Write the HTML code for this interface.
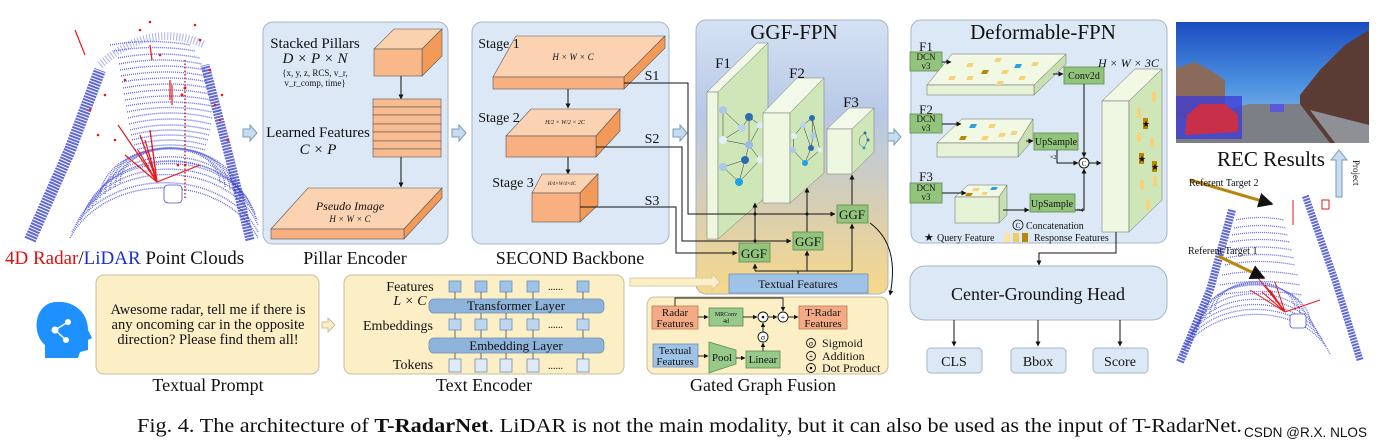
<!DOCTYPE html>
<html><head><meta charset="utf-8"><style>
html,body{margin:0;padding:0;background:#fff}
svg{display:block}
text{font-family:"Liberation Serif",serif;fill:#111}
</style></head><body>
<svg width="1383" height="448" viewBox="0 0 1383 448" xmlns="http://www.w3.org/2000/svg">
<defs>
<linearGradient id="ggf" x1="0" y1="0" x2="0" y2="1">
<stop offset="0" stop-color="#d5e2f4"/><stop offset="0.35" stop-color="#b7c8e6"/><stop offset="0.7" stop-color="#d9cfb0"/><stop offset="1" stop-color="#f7d88a"/></linearGradient>
<linearGradient id="sky" x1="0" y1="0" x2="0" y2="1">
<stop offset="0" stop-color="#1c4cc0"/><stop offset="0.5" stop-color="#4a90e0"/><stop offset="1" stop-color="#9cc4ec"/></linearGradient>
<marker id="ar" viewBox="0 0 10 10" refX="9" refY="5" markerWidth="5" markerHeight="5" orient="auto"><path d="M0,0 L10,5 L0,10 z" fill="#111"/></marker>
</defs>

<!-- LEFT POINT CLOUD -->
<g fill="none">
<g stroke="#3b46d6" stroke-width="1.4" stroke-dasharray="1 1" opacity="0.8">
<path d="M120,183 A50,35 0 0 1 220,183"/>
<path d="M115,187 A55,38 0 0 1 225,187"/>
<path d="M110,190 A60,42 0 0 1 230,190"/>
<path d="M105,194 A65,46 0 0 1 235,194"/>
<path d="M100,198 A70,50 0 0 1 240,198"/>
<path d="M96,202 A75,54 0 0 1 244,202"/>
<path d="M92,206 A80,58 0 0 1 248,206"/>
<path d="M88,210 A84,62 0 0 1 252,210"/>
<path d="M84,214 A88,66 0 0 1 255,214"/>
<path d="M80,220 A92,70 0 0 1 257,220"/>
<path d="M76,225 A96,74 0 0 1 258,225"/>
<path d="M72,232 A100,78 0 0 1 258,232"/>
<path d="M70,238 A102,82 0 0 1 258,238"/>
<path d="M135,150 Q170,140 205,150"/><path d="M134,145 Q170,135 206,145"/><path d="M132,140 Q170,130 208,140"/><path d="M131,135 Q170,125 209,135"/>
<path d="M130,130 Q170,120 210,130"/><path d="M129,124 Q170,114 211,124"/><path d="M128,118 Q170,108 212,118"/><path d="M127,112 Q170,103 212,112"/>
<path d="M126,106 Q170,98 212,106"/><path d="M125,100 Q170,92 211,100"/><path d="M124,94 Q170,86 210,94"/><path d="M123,88 Q170,80 209,88"/>
<path d="M122,82 Q170,74 208,82"/><path d="M121,76 Q168,68 206,76"/><path d="M120,70 Q165,62 205,70"/><path d="M119,64 Q162,56 202,64"/>
<path d="M118,58 Q160,50 200,58"/><path d="M114,51 Q155,44 195,51"/><path d="M110,45 Q150,38 190,45"/>
</g>
<path d="M30,240 L70,150 L100,70" stroke="#2a34c8" stroke-width="12" stroke-dasharray="2 1" opacity="0.75"/>
<path d="M250,240 L230,160 L205,65" stroke="#2a34c8" stroke-width="9" stroke-dasharray="2 1" opacity="0.75"/>
<path d="M100,65 Q150,20 205,45" stroke="#5a64d8" stroke-width="8" stroke-dasharray="1 2" opacity="0.5"/>
<path d="M185,60 V200" stroke="#cc2222" stroke-width="1.5" stroke-dasharray="1.5 2"/>
<g stroke="#e81818" stroke-width="1.2">
<path d="M157,182 L118,125"/><path d="M157,182 L125,155"/><path d="M157,182 L140,135"/><path d="M157,182 L150,130"/><path d="M157,182 L145,140"/><path d="M157,182 L152,145"/><path d="M157,182 L200,165"/><path d="M157,182 L148,150"/><path d="M157,182 L138,150"/>
<path d="M172,85 L172,105"/><path d="M170,80 L170,100"/><path d="M75,30 L85,55"/><path d="M150,45 L152,60"/>
</g>
<g fill="#e81818" stroke="none">
<circle cx="90" cy="110" r="1.3"/><circle cx="98" cy="135" r="1.3"/><circle cx="215" cy="105" r="1.3"/><circle cx="220" cy="120" r="1.3"/><circle cx="185" cy="88" r="1.5"/><circle cx="182" cy="95" r="1.5"/><circle cx="140" cy="30" r="1.3"/><circle cx="150" cy="22" r="1.3"/><circle cx="195" cy="25" r="1.3"/><circle cx="178" cy="165" r="1.3"/><circle cx="185" cy="165" r="1.3"/><circle cx="125" cy="80" r="1.3"/><circle cx="228" cy="140" r="1.3"/><circle cx="210" cy="70" r="1.3"/><circle cx="105" cy="95" r="1.3"/><circle cx="115" cy="140" r="1.3"/><circle cx="222" cy="95" r="1.3"/><circle cx="160" cy="55" r="1.3"/><circle cx="200" cy="40" r="1.3"/>
</g>
<rect x="164" y="185" width="18" height="18" rx="4" stroke="#4455cc" stroke-width="0.8" fill="#fff"/>
</g>
<text x="5" y="264" font-size="19"><tspan fill="#e01010">4D Radar</tspan>/<tspan fill="#1a2fd0">LiDAR</tspan> Point Clouds</text>

<!-- hollow arrows -->
<g fill="#c6dcf0" stroke="#7a9ab8" stroke-width="1">
<path d="M243,129 h7 v-4 l7,8 l-7,8 v-4 h-7 z"/>
<path d="M452,129 h7 v-4 l7,8 l-7,8 v-4 h-7 z"/>
<path d="M673,129 h7 v-4 l7,8 l-7,8 v-4 h-7 z"/>
<path d="M887,133 h7 v-4 l7,8 l-7,8 v-4 h-7 z"/>
</g>

<!-- PILLAR ENCODER -->
<rect x="263" y="22" width="185" height="222" rx="10" fill="#dce8f5" stroke="#a4b4c6"/>
<text x="315" y="48" font-size="15" text-anchor="middle">Stacked Pillars</text>
<text x="315" y="63" font-size="15" text-anchor="middle" font-style="italic">D × P × N</text>
<text x="315" y="76" font-size="9" text-anchor="middle" fill="#444">{x, y, z, RCS, v_r,</text>
<text x="315" y="86" font-size="9" text-anchor="middle" fill="#444">v_r_comp, time}</text>
<path d="M374,49 L394,29 L442,29 L422,49 z" fill="#fbd2b0" stroke="#555" stroke-width="0.6"/>
<path d="M422,49 L442,29 L442,56 L422,76 z" fill="#f49a58" stroke="#555" stroke-width="0.6"/>
<rect x="374" y="49" width="48" height="27" fill="#f8b88a" stroke="#555" stroke-width="0.6"/>
<path d="M401,76 V99" stroke="#111" marker-end="url(#ar)"/>
<g fill="#f9bc90" stroke="#555" stroke-width="0.6">
<rect x="373" y="99" width="68" height="8"/><rect x="373" y="107" width="68" height="8"/><rect x="373" y="115" width="68" height="9"/><rect x="373" y="124" width="68" height="8"/><rect x="373" y="132" width="68" height="9"/><rect x="373" y="141" width="68" height="8"/><rect x="373" y="149" width="68" height="8"/>
</g>
<text x="318" y="137" font-size="15" text-anchor="middle">Learned Features</text>
<text x="318" y="154" font-size="15" text-anchor="middle" font-style="italic">C × P</text>
<path d="M401,157 V187" stroke="#111" marker-end="url(#ar)"/>
<path d="M271,229 L308,188 L442,188 L404,229 z" fill="#fcd3b2" stroke="#555" stroke-width="0.6"/>
<path d="M404,229 L442,188 L442,198 L404,239 z" fill="#f49a58" stroke="#555" stroke-width="0.6"/>
<rect x="271" y="229" width="133" height="10" fill="#f8b080" stroke="#555" stroke-width="0.6"/>
<text x="350" y="210" font-size="12" text-anchor="middle" font-style="italic">Pseudo Image</text>
<text x="350" y="222" font-size="9" text-anchor="middle" font-style="italic">H × W × C</text>
<text x="355" y="264" font-size="18" text-anchor="middle">Pillar Encoder</text>

<!-- SECOND BACKBONE -->
<rect x="472" y="22" width="197" height="222" rx="10" fill="#dce8f5" stroke="#a4b4c6"/>
<path d="M493,77 L516,36 L665,36 L624,77 z" fill="#fcd3b2" stroke="#555" stroke-width="0.6"/>
<path d="M624,77 L665,36 L665,48 L624,89 z" fill="#f49a58" stroke="#555" stroke-width="0.6"/>
<rect x="493" y="77" width="131" height="12" fill="#f8b080" stroke="#555" stroke-width="0.6"/>
<text x="499" y="48" font-size="14" text-anchor="middle">Stage 1</text>
<text x="573" y="60" font-size="9" text-anchor="middle" font-style="italic">H × W × C</text>
<path d="M568,89 V108" stroke="#111" marker-end="url(#ar)"/>
<path d="M506,136 L531,109 L620,109 L596,136 z" fill="#fcd3b2" stroke="#555" stroke-width="0.6"/>
<path d="M596,136 L620,109 L620,131 L596,157 z" fill="#f49a58" stroke="#555" stroke-width="0.6"/>
<rect x="506" y="136" width="90" height="21" fill="#f8b080" stroke="#555" stroke-width="0.6"/>
<text x="499" y="122" font-size="14" text-anchor="middle">Stage 2</text>
<text x="565" y="124" font-size="6" text-anchor="middle" font-style="italic">H/2 × W/2 × 2C</text>
<path d="M568,157 V174" stroke="#111" marker-end="url(#ar)"/>
<path d="M532,193 L542,174 L598,174 L580,193 z" fill="#fcd3b2" stroke="#555" stroke-width="0.6"/>
<path d="M580,193 L598,174 L598,205 L580,222 z" fill="#f49a58" stroke="#555" stroke-width="0.6"/>
<rect x="532" y="193" width="48" height="29" fill="#f8b080" stroke="#555" stroke-width="0.6"/>
<text x="513" y="187" font-size="14" text-anchor="middle">Stage 3</text>
<text x="562" y="185" font-size="5" text-anchor="middle" font-style="italic">H/4×W/4×4C</text>
<text x="652" y="80" font-size="14" text-anchor="middle">S1</text>
<text x="652" y="143" font-size="14" text-anchor="middle">S2</text>
<text x="652" y="205" font-size="14" text-anchor="middle">S3</text>
<text x="570" y="264" font-size="18" text-anchor="middle">SECOND Backbone</text>

<!-- GGF-FPN -->
<rect x="696" y="20" width="192" height="274" rx="10" fill="url(#ggf)" stroke="#a4b4c6"/>
<text x="794" y="39" font-size="21" text-anchor="middle">GGF-FPN</text>
<!-- F1 -->
<path d="M707,92 L757,43 L768,43 L718,92 z" fill="#f3f9e8" stroke="#777" stroke-width="0.5"/>
<rect x="707" y="92" width="11" height="147" fill="#eef7e0" stroke="#777" stroke-width="0.5"/>
<path d="M718,92 L768,43 L768,195 L718,239 z" fill="#cfe6b8" stroke="#777" stroke-width="0.5"/>
<g stroke="#333" stroke-width="0.5" fill="none"><path d="M723,110 L742,128 L749,117 L760,125 M723,110 L723,140 L749,145 L745,160 L739,182 L723,167 M742,128 L723,140 M749,117 L749,145 L760,160 L739,182 M760,125 L749,145 M745,160 L723,167"/></g>
<g><circle cx="723" cy="110" r="4" fill="#a9c8ea"/><circle cx="742" cy="128" r="4" fill="#b9d3ee"/><circle cx="749" cy="117" r="4" fill="#2e6cb0"/><circle cx="760" cy="125" r="3.5" fill="#dbe8f6"/><circle cx="723" cy="140" r="4" fill="#e6eef8"/><circle cx="749" cy="145" r="4" fill="#98bde4"/><circle cx="745" cy="160" r="4" fill="#2e6cb0"/><circle cx="760" cy="160" r="3.5" fill="#e6eef8"/><circle cx="723" cy="167" r="4" fill="#a9c8ea"/><circle cx="739" cy="182" r="4" fill="#1aa5ea"/></g>
<text x="723" y="68" font-size="15" text-anchor="middle">F1</text>
<!-- F2 -->
<path d="M763,113 L797,78 L824,78 L790,113 z" fill="#f3f9e8" stroke="#777" stroke-width="0.5"/>
<rect x="763" y="113" width="27" height="90" fill="#eef7e0" stroke="#777" stroke-width="0.5"/>
<path d="M790,113 L824,78 L824,173 L790,203 z" fill="#cfe6b8" stroke="#777" stroke-width="0.5"/>
<g stroke="#333" stroke-width="0.5" fill="none"><path d="M794,136 L803,125 L812,118 L813,136 L811,148 L805,163 L793,150 L794,136 M803,125 L811,148 M812,118 L820,150 L805,163"/></g>
<g><circle cx="794" cy="136" r="3" fill="#e6eef8"/><circle cx="803" cy="125" r="3" fill="#b9d3ee"/><circle cx="812" cy="118" r="3" fill="#2e6cb0"/><circle cx="813" cy="136" r="3" fill="#a9c8ea"/><circle cx="811" cy="148" r="3" fill="#2e6cb0"/><circle cx="820" cy="150" r="2.5" fill="#e6eef8"/><circle cx="793" cy="150" r="3" fill="#a9c8ea"/><circle cx="805" cy="163" r="3" fill="#1aa5ea"/></g>
<text x="797" y="78" font-size="15" text-anchor="middle">F2</text>
<!-- F3 -->
<path d="M827,129 L849,108 L874,108 L852,129 z" fill="#f3f9e8" stroke="#777" stroke-width="0.5"/>
<rect x="827" y="129" width="25" height="45" fill="#eef7e0" stroke="#777" stroke-width="0.5"/>
<path d="M852,129 L874,108 L874,152 L852,174 z" fill="#cfe6b8" stroke="#777" stroke-width="0.5"/>
<g stroke="#333" stroke-width="0.4" fill="none"><path d="M860,137 L865,133 L868,140 L864,148 L859,144 z"/></g>
<circle cx="865" cy="133" r="1.5" fill="#2e6cb0"/><circle cx="868" cy="140" r="1.5" fill="#2e6cb0"/><circle cx="864" cy="148" r="1.5" fill="#1aa5ea"/>
<text x="851" y="107" font-size="15" text-anchor="middle">F3</text>

<!-- S lines -->
<g fill="none" stroke="#111" stroke-width="1">
<path d="M624,83 H688 V214 H835" marker-end="url(#ar)"/>
<path d="M596,147 H682 V241 H791" marker-end="url(#ar)"/>
<path d="M580,207 H676 V253 H737" marker-end="url(#ar)"/>
<path d="M755,243 V203" marker-end="url(#ar)"/>
<path d="M807,232 V188" marker-end="url(#ar)"/>
<path d="M852,205 V175" marker-end="url(#ar)"/>
<path d="M798,274 V271 M755,271 H852"/>
<path d="M755,271 V264" marker-end="url(#ar)"/>
<path d="M807,271 V251" marker-end="url(#ar)"/>
<path d="M852,271 V224" marker-end="url(#ar)"/>
<path d="M870,223 Q900,245 890,295" marker-end="url(#ar)"/>
</g>
<circle cx="755" cy="214" r="1.5" fill="#111"/><circle cx="807" cy="214" r="1.5" fill="#111"/><circle cx="755" cy="241" r="1.5" fill="#111"/>
<g fill="#93c47d" stroke="#5f8a4c" stroke-width="0.8">
<rect x="837" y="205" width="31" height="18"/><rect x="793" y="232" width="30" height="18"/><rect x="739" y="243" width="31" height="19"/>
</g>
<text x="852" y="219" font-size="13" text-anchor="middle">GGF</text>
<text x="808" y="246" font-size="13" text-anchor="middle">GGF</text>
<text x="754" y="258" font-size="13" text-anchor="middle">GGF</text>
<rect x="729" y="274" width="139" height="19" fill="#9fc3e7" stroke="#6e8fb3" stroke-width="0.8"/>
<text x="798" y="288" font-size="12" text-anchor="middle">Textual Features</text>

<!-- DEFORMABLE FPN -->
<rect x="911" y="20" width="256" height="223" rx="10" fill="#dce8f5" stroke="#a4b4c6"/>
<text x="1043" y="39" font-size="21" text-anchor="middle">Deformable-FPN</text>
<g font-size="13"><text x="926" y="51" text-anchor="middle">F1</text><text x="926" y="114" text-anchor="middle">F2</text><text x="926" y="181" text-anchor="middle">F3</text></g>
<g fill="#93c47d" stroke="#5f8a4c" stroke-width="0.8">
<rect x="910" y="52" width="32" height="19"/><rect x="910" y="114" width="32" height="19"/><rect x="910" y="183" width="32" height="20"/>
<rect x="1064" y="67" width="40" height="17"/><rect x="1034" y="133" width="44" height="17"/><rect x="1030" y="194" width="45" height="18"/>
</g>
<g font-size="9" text-anchor="middle"><text x="926" y="60">DCN</text><text x="926" y="69">v3</text><text x="926" y="122">DCN</text><text x="926" y="131">v3</text><text x="926" y="191">DCN</text><text x="926" y="200">v3</text></g>
<text x="1084" y="79" font-size="10" text-anchor="middle">Conv2d</text>
<text x="1056" y="145" font-size="10" text-anchor="middle">UpSample</text>
<text x="1052" y="207" font-size="10" text-anchor="middle">UpSample</text>
<text x="1050" y="159" font-size="6" fill="#555">×2</text><text x="1077" y="212" font-size="6" fill="#555">×4</text>
<path d="M927,85 L952,54 L1066,54 L1034,85 z" fill="#f1f8e4" stroke="#666" stroke-width="0.5"/>
<path d="M1034,85 L1066,54 L1066,64 L1034,95 z" fill="#c8e0b0" stroke="#666" stroke-width="0.5"/>
<rect x="927" y="85" width="107" height="10" fill="#e6f2d6" stroke="#666" stroke-width="0.5"/>
<path d="M937,143 L962,119 L1033,119 L1018,143 z" fill="#f1f8e4" stroke="#666" stroke-width="0.5"/>
<path d="M1018,143 L1033,119 L1033,140 L1018,157 z" fill="#c8e0b0" stroke="#666" stroke-width="0.5"/>
<rect x="937" y="143" width="81" height="14" fill="#e6f2d6" stroke="#666" stroke-width="0.5"/>
<path d="M955,197 L968,185 L1007,185 L999,197 z" fill="#f1f8e4" stroke="#666" stroke-width="0.5"/>
<path d="M999,197 L1007,185 L1007,215 L999,223 z" fill="#c8e0b0" stroke="#666" stroke-width="0.5"/>
<rect x="955" y="197" width="44" height="26" fill="#e6f2d6" stroke="#666" stroke-width="0.5"/>
<g fill="#f6d27a">
<path d="M968,63 h6 l-2,4 h-6 z"/><path d="M996,58 h6 l-2,4 h-6 z"/><path d="M1033,62 h6 l-2,4 h-6 z"/><path d="M950,76 h6 l-2,4 h-6 z"/><path d="M968,76 h6 l-2,4 h-6 z"/><path d="M1003,70 h6 l-2,4 h-6 z"/><path d="M1020,76 h6 l-2,4 h-6 z"/><path d="M998,81 h6 l-2,4 h-6 z"/>
<path d="M990,124 h6 l-2,4 h-6 z"/><path d="M1012,131 h6 l-2,4 h-6 z"/><path d="M983,136 h6 l-2,4 h-6 z"/><path d="M1000,133 h6 l-2,4 h-6 z"/>
<path d="M974,188 h6 l-2,3 h-6 z"/><path d="M983,192 h5 l-2,3 h-5 z"/>
</g>
<g fill="#b8860b"><path d="M983,70 h6 l-2,4 h-6 z"/><path d="M961,136 h6 l-2,4 h-6 z"/><path d="M967,193 h6 l-2,3 h-6 z"/></g>
<g fill="#2aa0e0"><path d="M1016,64 h6 l-2,4 h-6 z"/><path d="M971,124 h6 l-2,4 h-6 z"/><path d="M992,187 h6 l-2,3 h-6 z"/></g>
<path d="M1102,101 L1135,69 L1162,69 L1129,101 z" fill="#f1f8e4" stroke="#666" stroke-width="0.5"/>
<rect x="1102" y="101" width="27" height="131" fill="#eef7e2" stroke="#666" stroke-width="0.5"/>
<path d="M1129,101 L1162,69 L1162,200 L1129,232 z" fill="#cfe6b8" stroke="#666" stroke-width="0.5"/>
<g fill="#f6d27a"><rect x="1152" y="92" width="4" height="10"/><rect x="1137" y="108" width="4" height="10"/><rect x="1137" y="132" width="4" height="10"/><rect x="1150" y="138" width="4" height="10"/><rect x="1140" y="180" width="4" height="10"/><rect x="1153" y="176" width="4" height="10"/><rect x="1146" y="200" width="4" height="10"/></g>
<g fill="#b8860b"><rect x="1143" y="118" width="5" height="11"/><rect x="1139" y="153" width="5" height="11"/><rect x="1152" y="161" width="5" height="11"/></g>
<g fill="#3b6fc8" font-size="9"><text x="1142" y="127">★</text><text x="1138" y="162">★</text><text x="1151" y="170">★</text></g>
<text x="1098" y="67" font-size="12" font-style="italic">H × W × 3C</text>
<g fill="none" stroke="#111" stroke-width="1">
<path d="M942,62 H951" marker-end="url(#ar)"/><path d="M942,124 H961" marker-end="url(#ar)"/><path d="M942,193 H966" marker-end="url(#ar)"/>
<path d="M1053,74 H1063" marker-end="url(#ar)"/><path d="M1026,141 H1033" marker-end="url(#ar)"/><path d="M1003,210 H1029" marker-end="url(#ar)"/>
<path d="M1084,84 V157" marker-end="url(#ar)"/>
<path d="M1057,150 V163 H1078" marker-end="url(#ar)"/>
<path d="M1075,210 H1084 V169" marker-end="url(#ar)"/>
<path d="M1089,163 H1101" marker-end="url(#ar)"/>
<circle cx="1084" cy="163" r="5" fill="#fff"/>
<path d="M1116,232 V253 H1039 V265" marker-end="url(#ar)"/>
</g>
<text x="1084" y="166" font-size="7" text-anchor="middle">C</text>
<circle cx="1018" cy="225" r="5" fill="none" stroke="#111" stroke-width="0.8"/><text x="1018" y="228" font-size="7" text-anchor="middle">C</text>
<text x="1026" y="229" font-size="10">Concatenation</text>
<text x="924" y="241" font-size="11" fill="#3b6fc8">★</text><text x="937" y="241" font-size="10">Query Feature</text>
<rect x="1004" y="233" width="6" height="9" fill="#fbe3a0"/><rect x="1013" y="233" width="6" height="9" fill="#f6ca5a"/><rect x="1022" y="233" width="6" height="9" fill="#b8860b"/>
<text x="1034" y="241" font-size="10">Response Features</text>

<!-- REC -->
<rect x="1176" y="22" width="193" height="121" fill="url(#sky)"/>
<path d="M1176,68 L1195,62 L1210,70 L1225,80 L1225,118 L1176,122 z" fill="#8a6a5a"/>
<path d="M1300,143 L1300,95 L1320,70 L1345,45 L1369,30 L1369,143 z" fill="#5a3c34"/>
<path d="M1176,120 L1250,104 L1300,104 L1330,143 L1176,143 z" fill="#7c7f86"/>
<path d="M1310,110 L1369,125 L1369,143 L1335,143 z" fill="#8e9096"/>
<rect x="1176" y="96" width="66" height="43" fill="#3a3ad8" opacity="0.75"/>
<path d="M1185,135 L1187,115 L1200,104 L1225,104 L1238,115 L1238,132 z" fill="#c8304a"/>
<rect x="1270" y="104" width="14" height="8" fill="#5a5ad8"/>
<text x="1271" y="166" font-size="21" text-anchor="middle">REC Results</text>
<path d="M1336,197 V160 h-5 l8,-10 l8,10 h-5 v37 z" fill="#c6dcf0" stroke="#7a9ab8"/>
<text x="1353" y="160" font-size="9" transform="rotate(90 1353 160)">Project</text>

<!-- right point cloud -->
<g fill="none">
<g stroke="#3b46d6" stroke-width="1.3" stroke-dasharray="1 1" opacity="0.8">
<path d="M1215,310 A40,28 0 0 1 1295,310"/><path d="M1210,314 A45,31 0 0 1 1300,314"/><path d="M1205,318 A50,34 0 0 1 1305,318"/><path d="M1200,323 A55,38 0 0 1 1310,323"/><path d="M1196,328 A60,42 0 0 1 1314,328"/><path d="M1192,334 A65,46 0 0 1 1318,334"/><path d="M1188,340 A70,50 0 0 1 1322,340"/><path d="M1185,347 A74,54 0 0 1 1326,347"/><path d="M1182,354 A78,58 0 0 1 1330,354"/>
<path d="M1225,265 Q1260,258 1295,265"/><path d="M1222,275 Q1260,268 1298,275"/><path d="M1220,285 Q1260,278 1300,285"/><path d="M1218,295 Q1260,288 1302,295"/><path d="M1228,250 Q1260,244 1292,250"/><path d="M1232,235 Q1260,230 1288,235"/><path d="M1236,220 Q1260,215 1284,220"/><path d="M1226,258 Q1260,251 1294,258"/><path d="M1230,242 Q1260,237 1290,242"/><path d="M1234,228 Q1260,223 1286,228"/>
</g>
<path d="M1180,362 L1210,290 L1232,210" stroke="#2a34c8" stroke-width="8" stroke-dasharray="2 1" opacity="0.75"/>
<path d="M1360,360 L1335,280 L1305,195" stroke="#2a34c8" stroke-width="7" stroke-dasharray="2 1" opacity="0.75"/>
<g stroke="#e81818" stroke-width="1"><path d="M1285,312 L1258,278 M1285,312 L1265,285 M1285,312 L1275,282 M1285,312 L1250,290 M1285,312 L1320,300 M1293,200 L1293,225 M1285,312 L1270,290 M1285,312 L1262,292"/></g>
<rect x="1290" y="314" width="16" height="14" rx="3" stroke="#4455cc" stroke-width="0.8" fill="#fff"/>
<rect x="1322" y="200" width="7" height="9" stroke="#e81818" stroke-width="1"/>
<path d="M1190,180 L1272,204" stroke="#b8860b" stroke-width="3" marker-end="url(#ar)"/>
<path d="M1218,256 L1264,278" stroke="#b8860b" stroke-width="3" marker-end="url(#ar)"/>
</g>
<text x="1189" y="186" font-size="10">Referent Target 2</text>
<text x="1188" y="254" font-size="10">Referent Target 1</text>

<!-- CENTER HEAD -->
<rect x="910" y="266" width="257" height="54" rx="15" fill="#dce8f5" stroke="#a4b4c6"/>
<text x="1038" y="300" font-size="18" text-anchor="middle">Center-Grounding Head</text>
<g fill="none" stroke="#111"><path d="M954,320 V346" marker-end="url(#ar)"/><path d="M1038,320 V346" marker-end="url(#ar)"/><path d="M1120,320 V346" marker-end="url(#ar)"/></g>
<g fill="#dce8f5" stroke="#a4b4c6"><rect x="927" y="348" width="55" height="25" rx="4"/><rect x="1011" y="348" width="55" height="25" rx="4"/><rect x="1093" y="348" width="55" height="25" rx="4"/></g>
<g font-size="14" text-anchor="middle"><text x="954" y="366">CLS</text><text x="1038" y="366">Bbox</text><text x="1120" y="366">Score</text></g>

<!-- HEAD ICON -->
<path d="M50,303 C70,298 88,310 88,330 L92,338 L88,340 L88,350 L80,352 L78,358 L45,358 L45,345 C33,335 33,310 50,303 z" fill="#1e90ff"/>
<g stroke="#fff" stroke-width="1.5"><path d="M55,330 L68,322 M55,330 L66,340"/></g>
<circle cx="55" cy="330" r="3.5" fill="#fff"/><circle cx="68" cy="322" r="3" fill="#fff"/><circle cx="66" cy="340" r="3" fill="#fff"/>

<!-- TEXTUAL PROMPT -->
<rect x="96" y="275" width="223" height="99" rx="8" fill="#fcefc6" stroke="#c9bd9a"/>
<g font-size="14.5" text-anchor="middle"><text x="208" y="314">Awesome radar, tell me if there is</text><text x="208" y="329">any oncoming car in the opposite</text><text x="208" y="344">direction? Please find them all!</text></g>
<text x="208" y="391" font-size="18" text-anchor="middle">Textual Prompt</text>
<path d="M322,322 h6 v-4 l7,7 l-7,7 v-4 h-6 z" fill="#fcefc6" stroke="#c9bd9a"/>

<!-- TEXT ENCODER -->
<rect x="344" y="275" width="280" height="99" rx="8" fill="#fcefc6" stroke="#c9bd9a"/>
<g font-size="14" text-anchor="middle"><text x="410" y="291">Features</text><text x="410" y="305" font-style="italic">L × C</text><text x="398" y="330">Embeddings</text><text x="413" y="369">Tokens</text></g>
<g stroke="#6e8fb3" stroke-width="0.8">
<g fill="#9fc3e7"><rect x="449" y="281" width="12" height="11"/><rect x="475" y="281" width="12" height="11"/><rect x="500" y="281" width="12" height="11"/><rect x="527" y="281" width="12" height="11"/><rect x="577" y="281" width="12" height="11"/></g>
<g fill="#bcd6f0"><rect x="449" y="319" width="12" height="11"/><rect x="475" y="319" width="12" height="11"/><rect x="500" y="319" width="12" height="11"/><rect x="527" y="319" width="12" height="11"/><rect x="577" y="319" width="12" height="11"/></g>
<g fill="#dfeaf6"><rect x="449" y="359" width="12" height="13"/><rect x="475" y="359" width="12" height="13"/><rect x="500" y="359" width="12" height="13"/><rect x="527" y="359" width="12" height="13"/><rect x="577" y="359" width="12" height="13"/></g>
<rect x="429" y="299" width="175" height="14" rx="5" fill="#8fb4dc"/>
<rect x="429" y="338" width="175" height="15" rx="5" fill="#8fb4dc"/>
</g>
<g stroke="#333" stroke-width="0.7" fill="none">
<path d="M455,292 V299 M481,292 V299 M506,292 V299 M533,292 V299 M583,292 V299 M455,313 V319 M481,313 V319 M506,313 V319 M533,313 V319 M583,313 V319 M455,330 V338 M481,330 V338 M506,330 V338 M533,330 V338 M583,330 V338 M455,353 V359 M481,353 V359 M506,353 V359 M533,353 V359 M583,353 V359"/>
</g>
<g font-size="13" text-anchor="middle"><text x="516" y="310">Transformer Layer</text><text x="516" y="350">Embedding Layer</text></g>
<g font-size="10"><text x="548" y="290">......</text><text x="548" y="328">......</text><text x="548" y="369">......</text></g>
<text x="484" y="391" font-size="18" text-anchor="middle">Text Encoder</text>
<path d="M630,278 h82 v-4 l8,8 l-8,8 v-4 h-82 z" fill="#fcefc6" stroke="#d9cba6"/>

<!-- GATED GRAPH FUSION -->
<rect x="647" y="297" width="241" height="77" rx="8" fill="#fcefc6" stroke="#c9bd9a"/>
<rect x="652" y="306" width="46" height="23" fill="#f4ab85" stroke="#b87a5a" stroke-width="0.8"/>
<rect x="799" y="306" width="48" height="23" fill="#f4ab85" stroke="#b87a5a" stroke-width="0.8"/>
<rect x="709" y="308" width="34" height="18" fill="#96c98a" stroke="#5f8a4c" stroke-width="0.8"/>
<rect x="746" y="351" width="34" height="17" fill="#96c98a" stroke="#5f8a4c" stroke-width="0.8"/>
<path d="M709,342 L736,350 L736,364 L709,373 z" fill="#96c98a" stroke="#5f8a4c" stroke-width="0.8"/>
<rect x="653" y="344" width="45" height="23" fill="#9fc3e7" stroke="#6e8fb3" stroke-width="0.8"/>
<g font-size="11" text-anchor="middle"><text x="675" y="316">Radar</text><text x="675" y="327">Features</text><text x="823" y="316">T-Radar</text><text x="823" y="327">Features</text><text x="675" y="354">Textual</text><text x="675" y="365">Features</text><text x="722" y="361">Pool</text><text x="763" y="363">Linear</text></g>
<g font-size="6" text-anchor="middle"><text x="726" y="316">MRConv</text><text x="726" y="323">4d</text></g>
<g fill="none" stroke="#111" stroke-width="0.9">
<path d="M698,317 H708" marker-end="url(#ar)"/><path d="M743,317 H757" marker-end="url(#ar)"/><path d="M768,317 H777" marker-end="url(#ar)"/><path d="M788,317 H798" marker-end="url(#ar)"/>
<path d="M675,306 V298 H783 V311" marker-end="url(#ar)"/>
<path d="M698,356 H708" marker-end="url(#ar)"/><path d="M736,358 H745" marker-end="url(#ar)"/>
<path d="M763,351 V343" marker-end="url(#ar)"/><path d="M763,332 V323" marker-end="url(#ar)"/>
<circle cx="763" cy="317" r="5" fill="#fff"/><circle cx="783" cy="317" r="5" fill="#fff"/><circle cx="763" cy="337" r="5" fill="#fff"/>
<circle cx="811" cy="343" r="4.5"/><circle cx="811" cy="356" r="4.5"/><circle cx="811" cy="368" r="4.5"/>
</g>
<circle cx="763" cy="317" r="1.3" fill="#111"/><circle cx="811" cy="368" r="1.3" fill="#111"/>
<g font-size="8" text-anchor="middle"><text x="783" y="320">+</text><text x="763" y="340">σ</text><text x="811" y="346">σ</text><text x="811" y="359">+</text></g>
<g font-size="12"><text x="822" y="347">Sigmoid</text><text x="822" y="360">Addition</text><text x="822" y="372">Dot Product</text></g>
<text x="763" y="391" font-size="18" text-anchor="middle">Gated Graph Fusion</text>

<!-- CAPTION -->
<text x="137" y="432" font-size="20" textLength="1105" lengthAdjust="spacingAndGlyphs">Fig. 4.  The architecture of <tspan font-weight="bold">T-RadarNet</tspan>. LiDAR is not the main modality, but it can also be used as the input of T-RadarNet.</text>
<text x="1244" y="437" font-size="14" fill="#999" style="font-family:'Liberation Sans',sans-serif" textLength="123" lengthAdjust="spacingAndGlyphs">CSDN @R.X. NLOS</text>
</svg>
</body></html>
